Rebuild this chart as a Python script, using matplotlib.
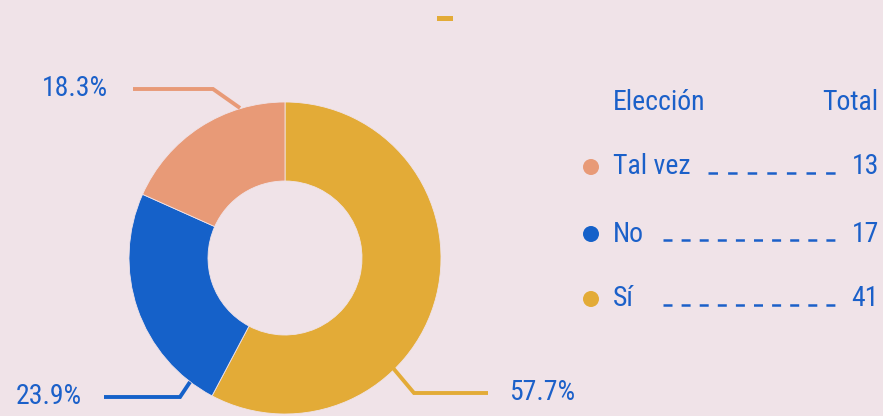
import numpy as np
import matplotlib
matplotlib.use("Agg")
from matplotlib import pyplot as plt
from matplotlib.patches import Rectangle, Circle

plt.rcParams['font.family'] = ['Roboto Condensed', 'DejaVu Sans']

# data
labels = ["Sí", "No", "Tal vez"]
values = [41, 17, 13]
colors = ["#E3AB37", "#1561C9", "#E89A77"]
legend_order = ["Tal vez", "No", "Sí"]

bg = "#F0E3E8"
txt = "#1B60C9"
W, H = 883, 416


def py(y):
    # pixel row -> data y
    return H - y


fig = plt.figure(figsize=(W / 100, H / 100), dpi=100, facecolor=bg)
ax = fig.add_axes([0, 0, 1, 1])
ax.set_facecolor(bg)

cx, cy, r = 285, 258, 156
wedges, _ = ax.pie(values, colors=colors, startangle=90, counterclock=False,
                   center=(cx, py(cy)), radius=r,
                   wedgeprops=dict(width=79, edgecolor=bg, linewidth=0.6))

total = sum(values)
pct = [v / total * 100 for v in values]

# leader lines + percentage labels
leaders = {
    "Tal vez": ([240, 213, 133], [108, 89, 89], (108, 89), "right"),
    "No": ([190, 180, 104], [382, 397, 397], (82, 397), "right"),
    "Sí": ([393, 414, 488], [368, 393, 393], (509, 393), "left"),
}
for lab, p in zip(labels, pct):
    xs, ys, (tx, ty), ha = leaders[lab]
    col = colors[labels.index(lab)]
    ax.plot(xs, [py(v) for v in ys], color=col, lw=2.8, solid_capstyle='butt',
            solid_joinstyle='miter')
    ax.text(tx, py(ty), "%.1f%%" % p, color=txt, fontsize=20, ha=ha, va='center')

# small marker at top
ax.add_patch(Rectangle((437, py(21)), 16, 5, color=colors[0], lw=0))

# legend table
ax.text(613, py(102), "Elección", color=txt, fontsize=20, ha='left', va='center')
ax.text(878, py(102), "Total", color=txt, fontsize=20, ha='right', va='center')
rows_y = [167, 234, 299]
dash_start = [708, 663, 663]
dash_pat = [(3.8, 4.04), (3.6, 3.64), (3.6, 3.64)]
for lab, ry, ds, dp in zip(legend_order, rows_y, dash_start, dash_pat):
    i = labels.index(lab)
    ax.add_patch(Circle((591, py(ry)), 8, color=colors[i], lw=0))
    ax.text(613, py(ry), lab, color=txt, fontsize=20, ha='left', va='center')
    ax.text(879, py(ry), str(values[i]), color=txt, fontsize=20, ha='right', va='center')
    ax.plot([ds, 837], [py(ry + 6), py(ry + 6)], color=txt, lw=1.8,
            dashes=dp, dash_capstyle='butt')

ax.set_xlim(0, W)
ax.set_ylim(0, H)
ax.set_aspect('equal')
ax.axis('off')

plt.savefig("out.png", dpi=100, facecolor=bg)
